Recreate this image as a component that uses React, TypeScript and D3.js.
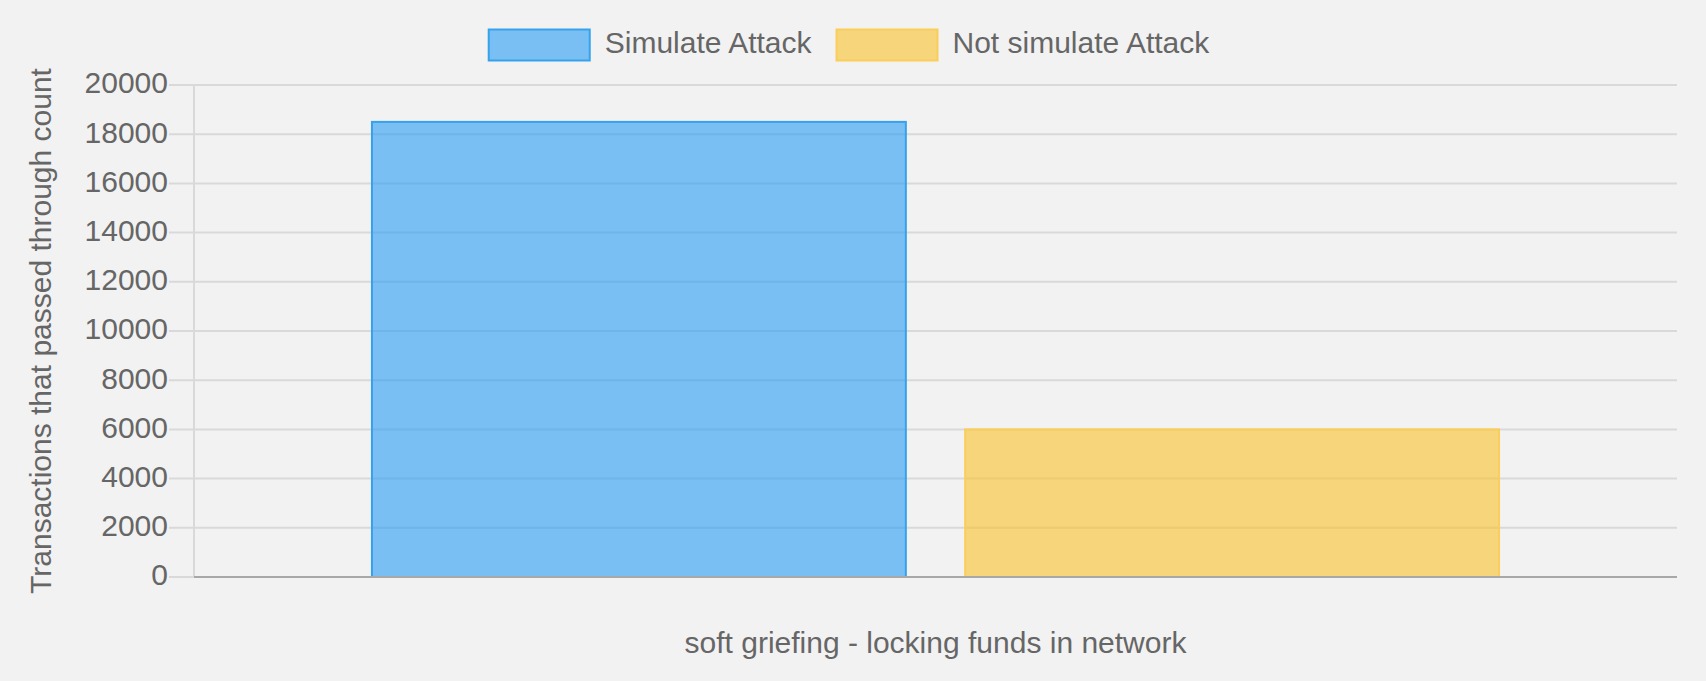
import React, { useRef, useEffect } from "react";
import * as d3 from "d3";

const categories = ["soft griefing - locking funds in network"];
const seriesNames = ["Simulate Attack", "Not simulate Attack"];
const simulateAttack = [18500];
const notSimulateAttack = [6000];
const yTicks = [0, 2000, 4000, 6000, 8000, 10000, 12000, 14000, 16000, 18000, 20000];

const seriesValues = [simulateAttack, notSimulateAttack];
const fills = ["rgb(42,157,245)", "rgb(248,194,44)"];
const strokes = ["#36a2eb", "#fbcd5a"];

const W = 1706;
const H = 681;
const FONT = "'Liberation Sans', Arial, sans-serif";
const FS = 30;
const TEXT = "#666666";

const App = () => {
  const ref = useRef<SVGSVGElement>(null);

  useEffect(() => {
    document.body.style.margin = "0";
    document.body.style.background = "#f2f2f2";

    const svg = d3.select(ref.current);
    svg.selectAll("*").remove();

    const margin = { top: 85, right: 29, bottom: 104, left: 194 };
    const x0 = d3.scaleBand()
      .domain(categories)
      .range([margin.left, W - margin.right])
      .paddingInner(0)
      .paddingOuter(0.125);
    const x1 = d3.scaleBand()
      .domain(seriesNames)
      .range([0, x0.bandwidth()])
      .paddingInner(0.1)
      .paddingOuter(0.05);
    const y = d3.scaleLinear()
      .domain([0, 20000])
      .range([H - margin.bottom, margin.top]);

    // grid + tick marks
    const grid = svg.append("g");
    grid.selectAll("line")
      .data(yTicks.filter((t) => t !== 0))
      .enter()
      .append("line")
      .attr("x1", margin.left - 25)
      .attr("x2", W - margin.right)
      .attr("y1", (d) => y(d))
      .attr("y2", (d) => y(d))
      .attr("stroke", "#d9d9d9")
      .attr("stroke-width", 2);
    grid.append("line")
      .attr("x1", margin.left - 25)
      .attr("x2", margin.left)
      .attr("y1", y(0))
      .attr("y2", y(0))
      .attr("stroke", "#d9d9d9")
      .attr("stroke-width", 2);
    grid.append("line")
      .attr("x1", margin.left)
      .attr("x2", margin.left)
      .attr("y1", y(20000))
      .attr("y2", y(0))
      .attr("stroke", "#d9d9d9")
      .attr("stroke-width", 2);

    // tick labels
    svg.append("g")
      .selectAll("text")
      .data(yTicks)
      .enter()
      .append("text")
      .attr("x", margin.left - 26)
      .attr("y", (d) => y(d))
      .attr("dy", "0.28em")
      .attr("text-anchor", "end")
      .attr("font-family", FONT)
      .attr("font-size", FS)
      .attr("fill", TEXT)
      .text((d) => d);

    // bars
    const bars = svg.append("g");
    seriesNames.forEach((name, i) => {
      bars.selectAll(`rect.s${i}`)
        .data(categories.map((c, j) => ({ c, v: seriesValues[i][j] })))
        .enter()
        .append("rect")
        .attr("class", `s${i}`)
        .attr("x", (d) => (x0(d.c) as number) + (x1(name) as number))
        .attr("y", (d) => y(d.v))
        .attr("width", x1.bandwidth())
        .attr("height", (d) => y(0) - y(d.v))
        .attr("fill", fills[i])
        .attr("fill-opacity", 0.6)
        .attr("stroke", strokes[i])
        .attr("stroke-width", 2);
    });

    // x axis line
    svg.append("line")
      .attr("x1", margin.left)
      .attr("x2", W - margin.right)
      .attr("y1", y(0))
      .attr("y2", y(0))
      .attr("stroke", "#a8a8a8")
      .attr("stroke-width", 2);

    // axis titles
    svg.append("text")
      .attr("x", (margin.left + W - margin.right) / 2)
      .attr("y", 653)
      .attr("text-anchor", "middle")
      .attr("font-family", FONT)
      .attr("font-size", FS)
      .attr("fill", TEXT)
      .text(categories[0]);

    svg.append("text")
      .attr("transform", `translate(51, ${(y(0) + y(20000)) / 2}) rotate(-90)`)
      .attr("text-anchor", "middle")
      .attr("font-family", FONT)
      .attr("font-size", FS)
      .attr("fill", TEXT)
      .text("Transactions that passed through count");

    // legend
    const legend = svg.append("g");
    const boxW = 101;
    const boxH = 31;
    const items = seriesNames.map((name, i) => {
      const g = legend.append("g");
      g.append("rect")
        .attr("x", 0)
        .attr("y", 29.5)
        .attr("width", boxW)
        .attr("height", boxH)
        .attr("fill", fills[i])
        .attr("fill-opacity", 0.6)
        .attr("stroke", strokes[i])
        .attr("stroke-width", 2);
      const t = g.append("text")
        .attr("x", boxW + 15)
        .attr("y", 42)
        .attr("dy", "0.36em")
        .attr("font-family", FONT)
        .attr("font-size", FS)
        .attr("fill", TEXT)
        .text(name);
      const tw = (t.node() as SVGTextElement).getComputedTextLength();
      return { g, w: boxW + 15 + tw };
    });
    const gap = 25;
    const total = d3.sum(items, (d) => d.w) + gap * (items.length - 1);
    let cx = W / 2 - 4 - total / 2;
    items.forEach((it) => {
      it.g.attr("transform", `translate(${cx}, 0)`);
      cx += it.w + gap;
    });
  }, []);

  return <svg ref={ref} width={W} height={H} style={{ display: "block", background: "#f2f2f2" }} />;
};

export default App;
